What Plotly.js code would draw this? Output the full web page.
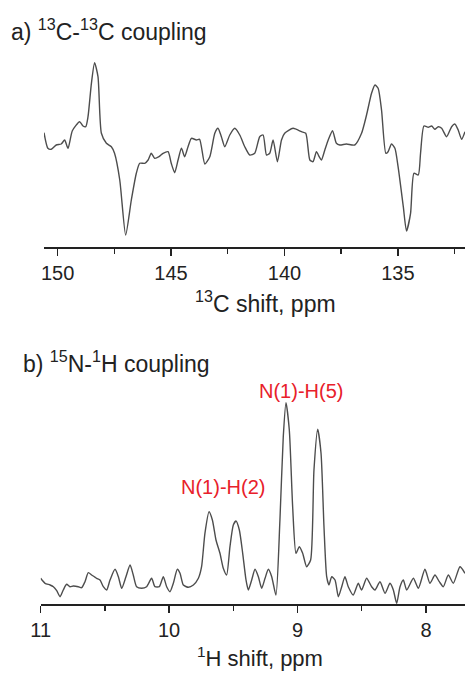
<!DOCTYPE html>
<html>
<head>
<meta charset="utf-8">
<script src="https://cdn.plot.ly/plotly-3.0.1.min.js"></script>
<style>html,body{margin:0;padding:0;background:#fff;}#chart{width:465px;height:673px;}</style>
</head>
<body>
<div id="chart"></div>
<script>
// Panel a: 13C-13C coupling (chemical shift in ppm, intensity in arbitrary units)
const cShift = [150.60,150.43,150.28,150.06,149.84,149.69,149.54,149.35,149.03,148.88,148.76,148.66,148.51,148.37,148.22,148.07,147.85,147.63,147.49,147.26,147.00,146.75,146.53,146.38,146.16,146.01,145.87,145.72,145.53,145.35,145.13,144.99,144.84,144.69,144.54,144.40,144.25,144.10,143.88,143.74,143.51,143.29,143.07,142.93,142.78,142.63,142.41,142.19,141.97,141.75,141.53,141.31,141.09,140.94,140.79,140.65,140.50,140.31,140.13,139.99,139.62,139.25,139.06,138.88,138.74,138.59,138.47,138.37,138.22,138.07,137.88,137.71,137.56,137.27,136.90,136.60,136.38,136.16,136.01,135.87,135.72,135.53,135.43,135.28,135.13,134.99,134.76,134.62,134.44,134.29,134.10,134.00,133.85,133.66,133.51,133.37,133.22,133.07,132.85,132.63,132.49,132.34,132.19,132.04];
const cIntensity = [7.3,-8.3,-9.3,-5,-4,0,-8.3,9.3,18.3,14,13.3,23.3,56.7,77.3,63.3,6.7,-3.3,-6.7,-13.3,-40,-95,-60,-33.3,-23.3,-23.3,-20,-13.3,-18.3,-16.7,-13.3,-11.7,-23.3,-32.7,-20,-8.3,-16.7,-6.7,1.7,0,0.7,-24,-16.7,6.7,11.7,3.3,-6.7,5,11.7,5,-6.7,-15,-13.3,3.3,5,-15,-13.3,0,-21.7,0,6.7,11.7,8.3,6.7,-20,-21.7,-11.7,-16.7,-20,-10,0,9.3,-3.3,-5,-4,-5,6.7,25,46.7,55,51.7,30,-13.3,-11.7,-4,-8.3,-26.7,-66.7,-91,-73.3,-33.3,-35,-13.3,14,12.7,14,10.7,13.3,11.7,3.3,13.3,16,10,0.7,8.3];

// Panel b: 15N-1H coupling
const hShift = [11.000,10.966,10.927,10.901,10.875,10.849,10.824,10.798,10.772,10.746,10.707,10.681,10.655,10.629,10.603,10.564,10.538,10.512,10.486,10.460,10.421,10.395,10.369,10.336,10.304,10.279,10.253,10.214,10.175,10.136,10.110,10.076,10.045,10.019,9.993,9.967,9.936,9.915,9.889,9.850,9.811,9.772,9.747,9.721,9.689,9.663,9.635,9.604,9.578,9.552,9.526,9.500,9.479,9.453,9.427,9.401,9.383,9.357,9.331,9.305,9.279,9.253,9.227,9.201,9.168,9.137,9.111,9.090,9.064,9.038,9.012,8.986,8.960,8.929,8.898,8.872,8.843,8.817,8.794,8.773,8.755,8.734,8.708,8.682,8.656,8.631,8.605,8.566,8.527,8.501,8.462,8.423,8.397,8.358,8.319,8.280,8.254,8.228,8.202,8.176,8.150,8.098,8.059,8.008,7.969,7.930,7.896,7.865,7.826,7.787,7.735,7.696];
const hIntensity = [25.7,20.7,19,17.3,13.3,7.3,14,19.7,17.3,18,17.3,16.3,22.3,31.3,29,25.7,24,17.3,14,24,34.7,27.3,15.7,27.3,39,29,17.3,15.7,17.3,25.7,17.3,17.3,27.3,17.3,12.3,20.7,34.7,30.7,19,16.7,19,25.7,37.3,70.7,92.3,84,64,50.7,35.7,29,57.3,79,83,74,50.7,24,14,24,34.7,27.3,15.7,25.7,34.7,27.3,9,84,167.3,201.3,174,97.3,50.7,57.3,50.7,37.3,44,134,174.7,150.7,77.3,27.3,19,27.3,24,7.3,17.3,27.3,17.3,9,20.7,14,25.7,17.3,14,22.3,10.7,20.7,14,0.7,17.3,24,14,25.7,15.7,34.7,20.7,29,22.3,17.3,29,20.7,37.3,30.7];

const peakLabels = ["N(1)-H(2)", "N(1)-H(5)"];
const peakLabelPos = [[9.58, 117], [8.97, 213]];

const W = 465, H = 673;
const px = x => x / W;
const py = y => 1 - y / H;

const lineStyle = {color: '#4d4d4d', width: 1.4, shape: 'spline', smoothing: 0.6};
const traces = [
  {x: cShift, y: cIntensity, type: 'scatter', mode: 'lines', line: lineStyle, xaxis: 'x', yaxis: 'y', hoverinfo: 'skip'},
  {x: hShift, y: hIntensity, type: 'scatter', mode: 'lines', line: lineStyle, xaxis: 'x2', yaxis: 'y2', hoverinfo: 'skip'}
];

const FONT = 'Liberation Sans, Arial, sans-serif';
const tickFont = {family: FONT, size: 20, color: '#222'};
const axisCommon = {
  showgrid: false, zeroline: false, showline: true, linecolor: '#222', linewidth: 1.5,
  ticks: 'outside', ticklen: 7, tickwidth: 1.5, tickcolor: '#222', tickfont: tickFont,
  fixedrange: true
};

const layout = {
  width: W, height: H,
  margin: {l: 0, r: 0, t: 0, b: 0},
  paper_bgcolor: '#fff', plot_bgcolor: '#fff',
  showlegend: false,
  xaxis: Object.assign({}, axisCommon, {
    domain: [px(44), 1], range: [150.60, 132.04], anchor: 'y',
    tickvals: [150, 145, 140, 135],
    minor: {tickvals: [147.5, 142.5, 137.5, 132.5], ticklen: 5, tickwidth: 1.5, tickcolor: '#222', ticks: 'outside'}
  }),
  yaxis: {domain: [py(247), py(55)], range: [-107, 85], visible: false, fixedrange: true},
  xaxis2: Object.assign({}, axisCommon, {
    domain: [px(40.67), 1], range: [11, 7.696], anchor: 'y2',
    tickvals: [11, 10, 9, 8],
    minor: {tickvals: [10.5, 9.5, 8.5, 7.5], ticklen: 5, tickwidth: 1.5, tickcolor: '#222', ticks: 'outside'}
  }),
  yaxis2: {domain: [py(604), py(380)], range: [0, 224], visible: false, fixedrange: true},
  annotations: [
    {text: 'a) <sup>13</sup>C-<sup>13</sup>C coupling', xref: 'paper', yref: 'paper', x: px(9), y: py(30), xanchor: 'left', yanchor: 'middle', showarrow: false, font: {family: FONT, size: 23, color: '#222'}},
    {text: '<sup>13</sup>C shift, ppm', xref: 'paper', yref: 'paper', x: px(265), y: py(302), xanchor: 'center', yanchor: 'middle', showarrow: false, font: {family: FONT, size: 23, color: '#222'}},
    {text: 'b) <sup>15</sup>N-<sup>1</sup>H coupling', xref: 'paper', yref: 'paper', x: px(21), y: py(362), xanchor: 'left', yanchor: 'middle', showarrow: false, font: {family: FONT, size: 23, color: '#222'}},
    {text: '<sup>1</sup>H shift, ppm', xref: 'paper', yref: 'paper', x: px(260), y: py(657), xanchor: 'center', yanchor: 'middle', showarrow: false, font: {family: FONT, size: 22, color: '#222'}},
    {text: peakLabels[0], xref: 'x2', yref: 'y2', x: peakLabelPos[0][0], y: peakLabelPos[0][1], xanchor: 'center', yanchor: 'middle', showarrow: false, font: {family: FONT, size: 20, color: '#e8202a'}},
    {text: peakLabels[1], xref: 'x2', yref: 'y2', x: peakLabelPos[1][0], y: peakLabelPos[1][1], xanchor: 'center', yanchor: 'middle', showarrow: false, font: {family: FONT, size: 20, color: '#e8202a'}}
  ]
};

Plotly.newPlot('chart', traces, layout, {displayModeBar: false, staticPlot: true});
</script>
</body>
</html>
